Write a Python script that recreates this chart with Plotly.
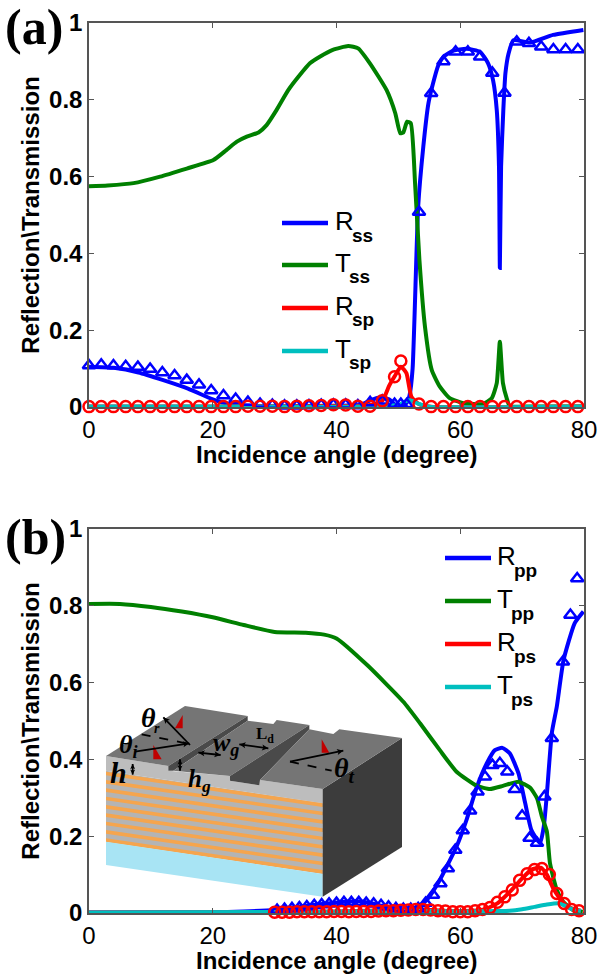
import math
import plotly.graph_objects as go

# ---------- panel (a) lines ----------
a_rss_x = [0,4,8,12,16,20,22,24,28,36,42,44,45.5,47,48.5,49.5,50.5,51.3,51.8,52.3,53.2,54.03,54.85,55.4,56.46,57.27,58.9,61,63.2,64.5,65.3,65.9,66.26,66.4,66.6,66.96,67.3,67.8,68.6,71.3,75,79.9]
a_rss_y = [.105,.102,.09,.07,.048,.02,.01,.005,.002,.002,.004,.006,.018,.025,.02,.006,.004,.01,.03,.1,.522,.678,.79,.83,.89,.912,.928,.933,.925,.895,.851,.773,.626,.362,.626,.773,.869,.92,.955,.949,.969,.982]
a_tss_x = [0,3,7.2,11.5,15.8,20.1,22.2,23.9,25.5,27.4,28.7,30.3,32.2,34.1,35.7,37.3,39.4,41.9,43.5,45.4,48.1,49.5,50.3,50.8,51.4,52,52.7,53.4,54.3,55.4,56.7,58.3,60.5,63.7,65.1,65.9,66.4,66.9,67.5,68,70,80]
a_tss_y = [.575,.577,.583,.6,.621,.643,.669,.691,.704,.715,.734,.773,.825,.865,.895,.912,.93,.94,.934,.895,.825,.765,.713,.715,.743,.739,.582,.383,.209,.096,.053,.023,.01,.008,.023,.062,.17,.062,.023,.002,.001,.001]
a_rsp_x = [0,20,40,44,45.4,47.4,48.5,49.4,50.4,51.3,52.1,53.3,55.3,80]
a_rsp_y = [.001,.001,.003,.003,.005,.016,.055,.08,.105,.088,.027,.008,.001,.001]
a_tsp_x = [0,30,47,48,50,51.3,52,53.3,55,80]
a_tsp_y = [.001,.001,.002,.005,.004,.016,.017,.008,.001,.001]

# ---------- panel (a) markers ----------
a_tri_x = [0,1.98,3.95,5.93,7.9,9.88,11.85,13.83,15.8,17.78,19.75,21.73,23.7,25.68,27.65,29.63,31.6,33.58,35.55,37.53,39.5,41.48,43.45,45.43,47.4,49.38,50.4,51.35,53.33,55.3,57.28,59.25,61.23,63.2,65.18,67.15,69.13,71.1,73.08,75.05,77.03,79]
a_tri_y = [.108,.11,.108,.106,.104,.099,.09,.082,.07,.058,.043,.03,.021,.013,.008,.005,.003,.003,.004,.005,.006,.006,.004,.012,.016,.008,.008,.007,.508,.817,.9,.925,.925,.912,.87,.818,.951,.947,.938,.931,.931,.931]
a_cir_x = [0,1.98,3.95,5.93,7.9,9.88,11.85,13.83,15.8,17.78,19.75,21.73,23.7,25.68,27.65,29.63,31.6,33.58,35.55,37.53,39.5,41.48,43.45,45.43,47.4,49.38,50.4,53.33,55.3,57.28,59.25,61.23,63.2,65.18,67.15,69.13,71.1,73.08,75.05,77.03,79]
a_cir_y = [.001,.001,.001,.001,.001,.001,.001,.001,.001,.001,.001,.001,.001,.002,.002,.002,.001,.002,.003,.004,.006,.005,.002,.002,.016,.079,.12,.008,.001,.001,.001,.001,.001,.001,.001,.001,.001,.001,.001,.001,.001]

# ---------- panel (b) lines ----------
b_rpp_x = [0,20,25,30,34,38,42,44,46,48,50,52,53.2,54.6,56.7,59.4,61,62.7,64.3,65.6,66.8,68,69.4,70.5,71.5,72.9,73.5,74,74.8,75.6,76.7,78.5,79.9]
b_rpp_y = [.001,.002,.004,.008,.016,.024,.03,.03,.024,.016,.01,.01,.016,.034,.086,.173,.242,.329,.39,.424,.43,.416,.364,.286,.216,.182,.225,.31,.469,.537,.659,.755,.785]
b_tpp_x = [0,5,10,15,20,25,30,35,38,40,45,50.8,53.5,56.7,59.4,62.7,64.8,66.9,69.4,71.3,72.4,73.2,74,74.5,75.6,76.6,78.2,79.8]
b_tpp_y = [.805,.805,.797,.785,.77,.75,.732,.73,.725,.715,.645,.55,.494,.424,.368,.331,.323,.331,.342,.326,.299,.251,.212,.13,.06,.03,.008,.003]
b_rps_x = [0,30,40,50,54,58,62,64,66,68,70,71.5,73,74,75,76,77.5,79.5]
b_rps_y = [.001,.002,.004,.008,.009,.005,.006,.01,.025,.055,.09,.113,.118,.1,.065,.04,.015,.006]
b_tps_x = [0,40,50,60,66,68,70,72,74,76,77,78,79.5]
b_tps_y = [.001,.003,.006,.004,.005,.006,.01,.016,.022,.025,.018,.01,.005]

# ---------- panel (b) markers ----------
b_tri_x = [30.4,31.6,32.8,34,35.2,36.4,37.6,38.8,40,41.2,42.4,43.6,44.8,46,47.2,48.4,49.6,50.8,52,53.2,54.4,55.6,56.8,58,59.2,60.4,61.6,62.8,64,65.2,66.4,67.6,68.8,70,71.2,72.4,73.6,74.8,76.6,77.8,78.9]
b_tri_y = [.008,.01,.012,.014,.017,.02,.022,.024,.026,.028,.028,.028,.026,.024,.02,.016,.012,.01,.01,.012,.026,.047,.077,.116,.164,.215,.266,.316,.355,.385,.39,.368,.322,.253,.195,.182,.303,.455,.654,.776,.871]
b_cir_x = [30,31.2,32.4,33.6,34.8,36,37.2,38.4,39.6,40.8,42,43.2,44.4,45.6,46.8,48,49.2,50.4,51.6,52.8,54,55.2,56.4,57.6,58.8,60,61.2,62.4,63.6,64.8,66,67.2,68.4,69.6,70.8,72,73.2,74.4,75.6,76.8,78,79.2]
b_cir_y = [.002,.002,.002,.003,.003,.003,.003,.003,.004,.004,.003,.004,.004,.004,.005,.006,.006,.007,.008,.009,.009,.008,.006,.005,.003,.003,.003,.006,.009,.014,.028,.042,.06,.085,.102,.113,.116,.1,.051,.025,.009,.006]

y_ticks = [0,.2,.4,.6,.8,1]
y_labels = ["0","0.2","0.4","0.6","0.8","1"]
x_ticks = [0,20,40,60,80]
legend_a = [("R","ss"),("T","ss"),("R","sp"),("T","sp")]
legend_b = [("R","pp"),("T","pp"),("R","ps"),("T","ps")]
x_title = "Incidence angle (degree)"
y_title = "Reflection\\Transmission"

BLUE, GREEN, RED, TEAL = "#0000ff", "#008000", "#ff0000", "#00bfbf"
W, H = 600, 975
SANS = "Liberation Sans"
SERIF = "Liberation Serif"

def px(x): return x / W
def py(y): return 1 - y / H

fig = go.Figure()

def line(x, y, c, name, xa, ya):
    fig.add_trace(go.Scatter(x=x, y=y, mode="lines", name=name, xaxis=xa, yaxis=ya,
                             line=dict(color=c, width=4, shape="spline", smoothing=0.5), showlegend=False))

def marks(x, y, c, sym, size, name, xa, ya):
    fig.add_trace(go.Scatter(x=x, y=y, mode="markers", name=name, xaxis=xa, yaxis=ya, cliponaxis=False,
                             marker=dict(symbol=sym, size=size, color=c,
                                         line=dict(color=c, width=2.5)), showlegend=False))

line(a_rss_x, a_rss_y, BLUE, "Rss", "x", "y")
line(a_tss_x, a_tss_y, GREEN, "Tss", "x", "y")
line(a_rsp_x, a_rsp_y, RED, "Rsp", "x", "y")
line(a_tsp_x, a_tsp_y, TEAL, "Tsp", "x", "y")
marks(a_tri_x, a_tri_y, BLUE, "triangle-up-open", 11, "Rss data", "x", "y")
marks(a_cir_x, a_cir_y, RED, "circle-open", 11, "Rsp data", "x", "y")

line(b_rpp_x, b_rpp_y, BLUE, "Rpp", "x2", "y2")
line(b_tpp_x, b_tpp_y, GREEN, "Tpp", "x2", "y2")
line(b_rps_x, b_rps_y, RED, "Rps", "x2", "y2")
line(b_tps_x, b_tps_y, TEAL, "Tps", "x2", "y2")
marks(b_tri_x, b_tri_y, BLUE, "triangle-up-open", 11, "Rpp data", "x2", "y2")
marks(b_cir_x, b_cir_y, RED, "circle-open", 11, "Rps data", "x2", "y2")

shapes, notes = [], []

def text(s, x, y, size, font=SANS, bold=True, italic=False, anchor="center", color="#000"):
    t = s
    if bold: t = f"<b>{t}</b>"
    if italic: t = f"<i>{t}</i>"
    notes.append(dict(text=t, x=px(x), y=py(y), xref="paper", yref="paper", showarrow=False,
                      xanchor=anchor, yanchor="middle", font=dict(family=font, size=size, color=color)))

# Panel letters and x titles
text("(a)", 3, 27, 50, SERIF, anchor="left")
text("(b)", 3, 537, 50, SERIF, anchor="left")
text(x_title, 336.5, 454, 24)
text(x_title, 336.5, 960, 24)

# Hand-made legends
leg_colors = [BLUE, GREEN, RED, TEAL]
def legend(items, x0, x1, tx, ys):
    for (a, b), c, y in zip(items, leg_colors, ys):
        shapes.append(dict(type="line", xref="paper", yref="paper", x0=px(x0), x1=px(x1), y0=py(y), y1=py(y),
                           line=dict(color=c, width=4.5)))
        text(a, tx, y - 2, 26, bold=False, anchor="left")
        text(b, tx + (17 if a == "R" else 14), y + 12, 19, bold=True, anchor="left")

legend(legend_a, 282, 328, 333, [223, 265, 308, 351])
legend(legend_b, 445, 491, 495, [558, 601, 644, 687])

# ---------- inset drawing (crop coordinates -> page) ----------
def ix(x): return 60 + x / 3
def iy(y): return 640 + y / 3

def poly(points, fill):
    d = "M " + " L ".join(f"{px(ix(a)):.5f},{py(iy(b)):.5f}" for a, b in points) + " Z"
    shapes.append(dict(type="path", path=d, xref="paper", yref="paper", fillcolor=fill, line=dict(width=0)))

def seg(p, q, c="#000", w=1.8, dash="solid"):
    shapes.append(dict(type="line", xref="paper", yref="paper", x0=px(ix(p[0])), y0=py(iy(p[1])),
                       x1=px(ix(q[0])), y1=py(iy(q[1])), line=dict(color=c, width=w, dash=dash)))

def head(p, q, size=21):
    a = math.atan2(q[1] - p[1], q[0] - p[0])
    s = size
    poly([q, (q[0] - s * math.cos(a - .45), q[1] - s * math.sin(a - .45)),
          (q[0] - s * .7 * math.cos(a), q[1] - s * .7 * math.sin(a)),
          (q[0] - s * math.cos(a + .45), q[1] - s * math.sin(a + .45))], "#000")

def arrow(p, q, both=False, size=21):
    seg(p, q)
    head(p, q, size)
    if both:
        head(q, p, size)

poly([(138,348),(325,378),(325,392),(510,408),(510,422),(598,436),(600,420),(788,447),(788,490),(138,392)], "#bdbdbd")
poly([(138,392),(788,490),(788,702),(138,605)], "#b4b4b4")
for top in [395,420,445,470,495,520,545,570,595]:
    poly([(138,top),(788,top+95),(788,top+106),(138,top+11)], "#f5a54e")
poly([(138,605),(788,702),(788,770),(138,675)], "#a8e4f4")
poly([(788,447),(1026,294),(1026,621),(788,770)], "#3c3c3c")
poly([(138,348),(375,198),(563,228),(325,378)], "#757575")
poly([(325,392),(340,392),(563,242),(563,228),(325,378)], "#4a4a4a")
poly([(340,392),(563,242),(640,252),(650,240),(748,255),(510,408)], "#757575")
poly([(510,408),(748,255),(748,268),(600,420),(598,436),(510,422)], "#4a4a4a")
poly([(600,420),(748,268),(820,282),(838,268),(1026,294),(788,447)], "#757575")
poly([(345,265),(368,225),(368,265)], "#c00000")
poly([(280,315),(305,358),(280,358)], "#c00000")
poly([(785,298),(808,338),(785,338)], "#c00000")

seg((245,283),(388,312), dash="dash")
seg((690,365),(815,392), dash="dash")
arrow((390,315),(310,232))
arrow((225,335),(388,310))
arrow((690,365),(850,332))
arrow((415,338),(482,345), both=True)
arrow((538,313),(625,325), both=True)
arrow((218,372),(218,404), both=True, size=17)
arrow((360,358),(360,392), both=True, size=17)

text("θ", ix(265), iy(232), 28, SERIF, italic=True)
text("r", ix(290), iy(265), 14, SERIF, italic=True)
text("θ<sub>i</sub>", ix(170), iy(318), 26, SERIF, italic=True, anchor="left")
text("h", ix(175), iy(398), 30, SERIF, italic=True)
text("w<sub>g</sub>", ix(452), iy(312), 26, SERIF, italic=True, anchor="left")
text("L<sub>d</sub>", ix(582), iy(285), 17, SERIF, anchor="left")
text("h<sub>g</sub>", ix(378), iy(422), 25, SERIF, italic=True, anchor="left")
text("θ<sub>t</sub>", ix(815), iy(388), 28, SERIF, italic=True, anchor="left")

axis = dict(range=[0, 80], tickmode="array", tickvals=x_ticks, ticks="inside", ticklen=5, tickwidth=1.3,
            tickcolor="#555", showline=True, linecolor="#555", linewidth=1.5, mirror="ticks",
            showgrid=False, zeroline=False, automargin=False, ticklabelstandoff=0,
            tickfont=dict(family=SANS, size=24, color="#000"),
            tickprefix="<b>", ticksuffix="</b>")
yaxis = dict(range=[0, 1], tickmode="array", tickvals=y_ticks, ticktext=[f"<b>{s}</b>" for s in y_labels],
             ticks="inside", ticklen=5, tickwidth=1.3, tickcolor="#555", showline=True, linecolor="#555",
             linewidth=1.5, mirror="ticks", showgrid=False, zeroline=False, automargin=False,
             tickfont=dict(family=SANS, size=24, color="#000"),
             title=dict(text=f"<b>{y_title}</b>", standoff=3, font=dict(family=SANS, size=24, color="#000")))

dom_x = [89 / W, 584 / W]
fig.update_layout(
    width=W, height=H, autosize=False, margin=dict(l=0, r=0, t=0, b=0, pad=0, autoexpand=False),
    paper_bgcolor="white", plot_bgcolor="white", showlegend=False,
    xaxis=dict(axis, domain=dom_x, anchor="y"),
    yaxis=dict(yaxis, domain=[py(407), py(23)], anchor="x"),
    xaxis2=dict(axis, domain=dom_x, anchor="y2"),
    yaxis2=dict(yaxis, domain=[py(913), py(529)], anchor="x2"),
    shapes=shapes, annotations=notes,
)
fig.write_html("out.html", config=dict(displayModeBar=False), post_script="document.body.style.margin='0';")
